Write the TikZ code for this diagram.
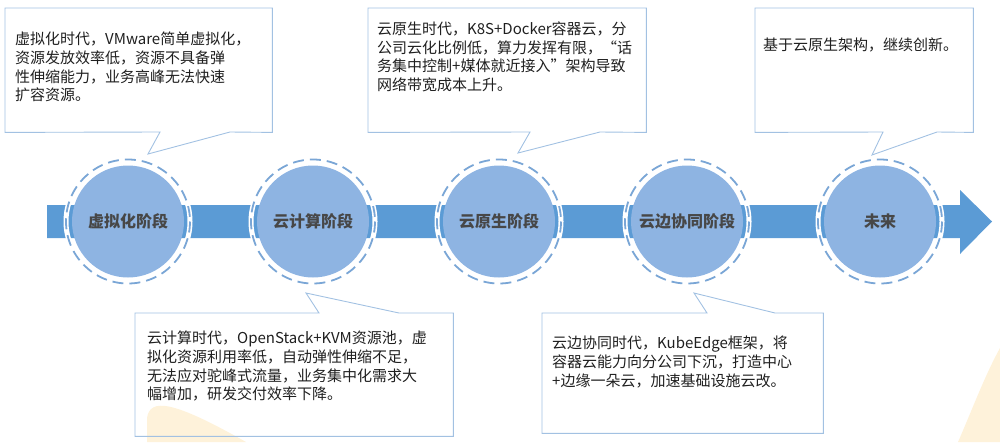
\documentclass[tikz,border=0pt]{standalone}
\usepackage{fontspec}
\newfontfamily\cjk{Noto Sans CJK SC}
\definecolor{shaftblue}{HTML}{5B9BD5}
\definecolor{stagefill}{HTML}{8EB4E2}
\definecolor{ringblue}{HTML}{7AA6D6}
\definecolor{boxline}{HTML}{A2C1E2}
\definecolor{sand}{HTML}{FEF2DA}
\begin{document}
\begin{tikzpicture}[x=1pt, y=-1pt,
    stage/.style={circle,fill=stagefill,minimum size=112,inner sep=0,font=\cjk\bfseries\fontsize{16}{18}\selectfont,text=black!72},
    ring/.style={draw=white,line width=5,postaction={draw=ringblue,line width=1.8,dash pattern=on 11 off 6}},
    callbox/.style={rectangle,inner sep=0,anchor=north west},
    callout/.style={draw=boxline,line width=0.9},
    note/.style={anchor=north west,inner sep=0,align=left,font=\cjk\fontsize{15}{18.7}\selectfont,text=black!88}
  ]
  \useasboundingbox (0,0) rectangle (1000,442);

  % faint background shapes
  \fill[sand] (147,442) -- (147,418) .. controls (150,398) and (172,400) .. (246,442) -- cycle;
  \fill[sand] (958,442) .. controls (972,410) and (985,375) .. (1000,348) -- (1000,442) -- cycle;

  % timeline arrow
  \fill[shaftblue] (47,205) -- (960,205) -- (960,190) -- (992,221.5) -- (960,254) -- (960,238) -- (47,238) -- cycle;

  % stages
  \node[stage] (virt) at (128,221.5) {虚拟化阶段};
  \node[stage] (cloud) at (313,221.5) {云计算阶段};
  \node[stage] (native) at (499,221.5) {云原生阶段};
  \node[stage] (edge) at (687,221.5) {云边协同阶段};
  \node[stage] (future) at (880,221.5) {未来};

  \draw[ring] (virt) circle[radius=62];
  \draw[ring] (cloud) circle[radius=62];
  \draw[ring] (native) circle[radius=62];
  \draw[ring] (edge) circle[radius=62];
  \draw[ring] (future) circle[radius=62];

  % callouts above
  \node[callbox,minimum width=267,minimum height=124] (virtBox) at (5,8) {};
  \draw[callout] (virtBox.north west) -- (virtBox.north east) -- (virtBox.south east)
    -- (230,132) -- (148,154) -- (160,132) -- (virtBox.south west) -- cycle;
  \node[note] (virtText) at (15,32) {虚拟化时代，VMware简单虚拟化，\\资源发放效率低，资源不具备弹\\性伸缩能力，业务高峰无法快速\\扩容资源。};

  \node[callbox,minimum width=278,minimum height=124] (nativeBox) at (368,8) {};
  \draw[callout] (nativeBox.north west) -- (nativeBox.north east) -- (nativeBox.south east)
    -- (600,132) -- (518,153) -- (530,132) -- (nativeBox.south west) -- cycle;
  \node[note] (nativeText) at (377,21.5) {云原生时代，K8S+Docker容器云，分\\公司云化比例低，算力发挥有限，“话\\务集中控制+媒体就近接入”架构导致\\网络带宽成本上升。};

  \node[callbox,minimum width=218,minimum height=124] (futureBox) at (755,8) {};
  \draw[callout] (futureBox.north west) -- (futureBox.north east) -- (futureBox.south east)
    -- (937,132) -- (872,155) -- (883,132) -- (futureBox.south west) -- cycle;
  \node[note] (futureText) at (763,37.5) {基于云原生架构，继续创新。};

  % callouts below
  \node[callbox,minimum width=318,minimum height=123] (cloudBox) at (135,313) {};
  \draw[callout] (cloudBox.north west) -- (319,313) -- (306,293) -- (399,313)
    -- (cloudBox.north east) -- (cloudBox.south east) -- (cloudBox.south west) -- cycle;
  \node[note] (cloudText) at (147,331) {云计算时代，OpenStack+KVM资源池，虚\\拟化资源利用率低，自动弹性伸缩不足，\\无法应对驼峰式流量，业务集中化需求大\\幅增加，研发交付效率下降。};

  \node[callbox,minimum width=281,minimum height=120] (edgeBox) at (542,313) {};
  \draw[callout] (edgeBox.north west) -- (707,313) -- (694,293) -- (775,313)
    -- (edgeBox.north east) -- (edgeBox.south east) -- (edgeBox.south west) -- cycle;
  \node[note] (edgeText) at (552,336) {云边协同时代，KubeEdge框架，将\\容器云能力向分公司下沉，打造中心\\+边缘一朵云，加速基础设施云改。};
\end{tikzpicture}
\end{document}
